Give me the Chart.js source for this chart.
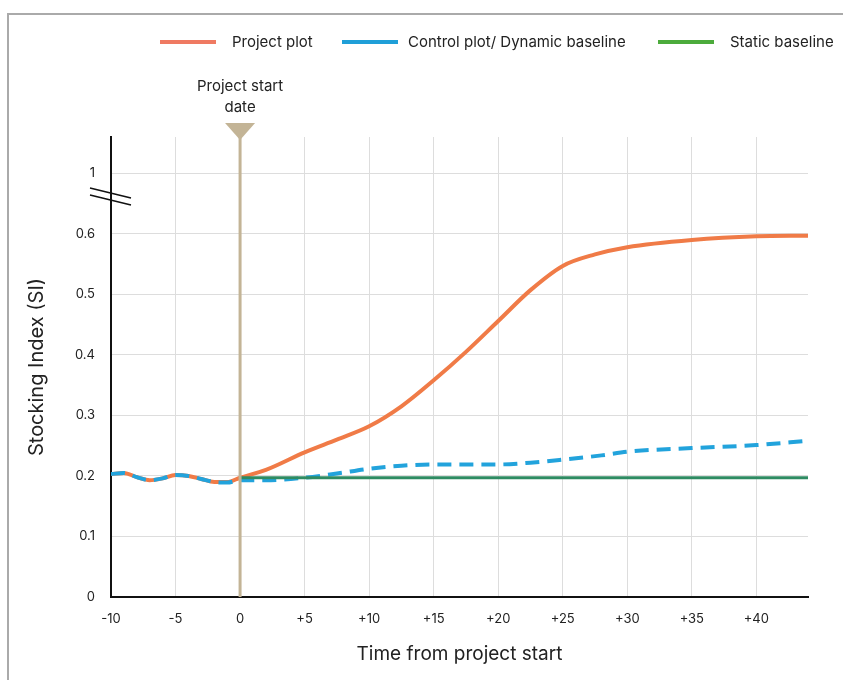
<!DOCTYPE html>
<html>
<head>
<meta charset="utf-8">
<script src="https://cdn.jsdelivr.net/npm/chart.js@4"></script>
<style>
  html, body { margin: 0; padding: 0; background: #fff; }
  #wrap { position: absolute; left: 0; top: 0; width: 843px; height: 680px; }
</style>
</head>
<body>
<div id="wrap"><canvas id="chart" width="843" height="680"></canvas></div>
<script>
// time steps (years from project start)
const projectTimes = [-10, -9, -8, -7, -6, -5, -4, -3, -2, -1, 0, 2, 5, 7.5, 10, 12.5, 15, 17.5, 20, 22.5, 25, 27.5, 30, 35, 40, 44];
const projectValues = [0.203, 0.205, 0.198, 0.193, 0.196, 0.2015, 0.2, 0.195, 0.19, 0.19, 0.197, 0.21, 0.239, 0.26, 0.282, 0.315, 0.358, 0.405, 0.456, 0.507, 0.547, 0.566, 0.578, 0.59, 0.596, 0.597];

const controlTimes = [-10, -9, -8, -7, -6, -5, -4, -3, -2, -1, 0, 2, 5, 7.5, 10, 12.5, 15, 20, 22.5, 25, 28, 30, 35, 40, 44];
const controlValues = [0.203, 0.205, 0.198, 0.193, 0.196, 0.2015, 0.2, 0.195, 0.19, 0.189, 0.193, 0.193, 0.197, 0.204, 0.212, 0.217, 0.219, 0.219, 0.222, 0.227, 0.234, 0.24, 0.246, 0.251, 0.258];

const staticTimes = [0, 44];
const staticValues = [0.197, 0.197];

const xTicks = [-10, -5, 0, 5, 10, 15, 20, 25, 30, 35, 40];
const yTicks = [0, 0.1, 0.2, 0.3, 0.4, 0.5, 0.6, 0.7];
const yTickLabels = ['0', '0.1', '0.2', '0.3', '0.4', '0.5', '0.6', '1'];

const legendItems = [
  { label: 'Project plot', color: '#ef7a62', x: 160, textX: 232 },
  { label: 'Control plot/ Dynamic baseline', color: '#1f9fd8', x: 342, textX: 408 },
  { label: 'Static baseline', color: '#4cab3c', x: 658, textX: 730 }
];

const startDate = 0;

const pts = (xs, ys) => xs.map((x, i) => ({ x: x, y: ys[i] }));

const FONT = 'Inter, "Noto Sans", sans-serif';

const decorations = {
  id: 'decorations',
  beforeDraw(chart) {
    const ctx = chart.ctx;
    ctx.save();
    ctx.strokeStyle = '#aaaaaa';
    ctx.lineWidth = 2;
    ctx.beginPath();
    ctx.moveTo(8, 680);
    ctx.lineTo(8, 14);
    ctx.lineTo(843, 14);
    ctx.stroke();
    ctx.restore();
  },
  afterDatasetsDraw(chart) {
    const ctx = chart.ctx;
    const xs = chart.scales.x, ys = chart.scales.y;
    const px = xs.getPixelForValue(startDate);
    ctx.save();
    // project start marker
    ctx.strokeStyle = '#c3b496';
    ctx.lineWidth = 3;
    ctx.beginPath();
    ctx.moveTo(px, 130);
    ctx.lineTo(px, ys.bottom);
    ctx.stroke();
    ctx.fillStyle = '#c3b496';
    ctx.beginPath();
    ctx.moveTo(px - 15, 123);
    ctx.lineTo(px + 15, 123);
    ctx.lineTo(px, 140);
    ctx.closePath();
    ctx.fill();
    ctx.fillStyle = '#222';
    ctx.font = '15px ' + FONT;
    ctx.textAlign = 'center';
    ctx.textBaseline = 'middle';
    ctx.fillText('Project start', px, 86);
    ctx.fillText('date', px, 107);

    // axis break
    ctx.strokeStyle = '#111';
    ctx.lineWidth = 1.5;
    ctx.beginPath();
    ctx.moveTo(90, 188); ctx.lineTo(131, 198);
    ctx.moveTo(90, 195); ctx.lineTo(131, 205);
    ctx.stroke();

    // legend
    ctx.font = '15px ' + FONT;
    ctx.textAlign = 'left';
    legendItems.forEach(it => {
      ctx.strokeStyle = it.color;
      ctx.lineWidth = 4;
      ctx.beginPath();
      ctx.moveTo(it.x, 42);
      ctx.lineTo(it.x + 56, 42);
      ctx.stroke();
      ctx.fillStyle = '#222';
      ctx.fillText(it.label, it.textX, 42);
    });
    ctx.restore();
  }
};

new Chart(document.getElementById('chart'), {
  type: 'line',
  data: {
    datasets: [
      {
        label: 'Static baseline',
        data: pts(staticTimes, staticValues),
        borderColor: '#2e8b62',
        borderWidth: 3,
        pointRadius: 0,
        order: 0
      },
      {
        label: 'Control plot/ Dynamic baseline',
        data: pts(controlTimes, controlValues),
        borderColor: '#22a3dc',
        borderWidth: 4,
        borderDash: [14, 8],
        pointRadius: 0,
        cubicInterpolationMode: 'monotone',
        order: 1
      },
      {
        label: 'Project plot',
        data: pts(projectTimes, projectValues),
        borderColor: '#f07b47',
        borderWidth: 4,
        pointRadius: 0,
        cubicInterpolationMode: 'monotone',
        order: 2
      }
    ]
  },
  options: {
    responsive: false,
    animation: false,
    layout: { padding: { top: 137, right: 35, left: 0, bottom: 0 } },
    plugins: { legend: { display: false }, tooltip: { enabled: false } },
    scales: {
      x: {
        type: 'linear',
        min: -10,
        max: 44,
        afterBuildTicks: s => { s.ticks = xTicks.map(v => ({ value: v })); },
        afterFit: s => { s.height = 83; },
        grid: { color: '#dddddd', lineWidth: 1, drawTicks: false },
        border: { color: '#111', width: 2 },
        ticks: {
          padding: 14,
          color: '#222',
          font: { family: FONT, size: 13 },
          callback: v => v > 0 ? '+' + v : String(v)
        },
        title: {
          display: true,
          text: 'Time from project start',
          color: '#222',
          font: { family: FONT, size: 19 },
          padding: { top: 8, bottom: 14 }
        }
      },
      y: {
        min: 0,
        max: 0.76,
        afterBuildTicks: s => { s.ticks = yTicks.map(v => ({ value: v })); },
        afterFit: s => { s.width = 111; },
        grid: { color: '#dddddd', lineWidth: 1, drawTicks: false },
        border: { color: '#111', width: 2 },
        ticks: {
          padding: 16,
          color: '#222',
          font: { family: FONT, size: 13 },
          callback: (v, i) => yTickLabels[i]
        },
        title: {
          display: true,
          text: 'Stocking Index (SI)',
          color: '#222',
          font: { family: FONT, size: 20 },
          padding: { top: 25, bottom: 0 }
        }
      }
    }
  },
  plugins: [decorations]
});
</script>
</body>
</html>
